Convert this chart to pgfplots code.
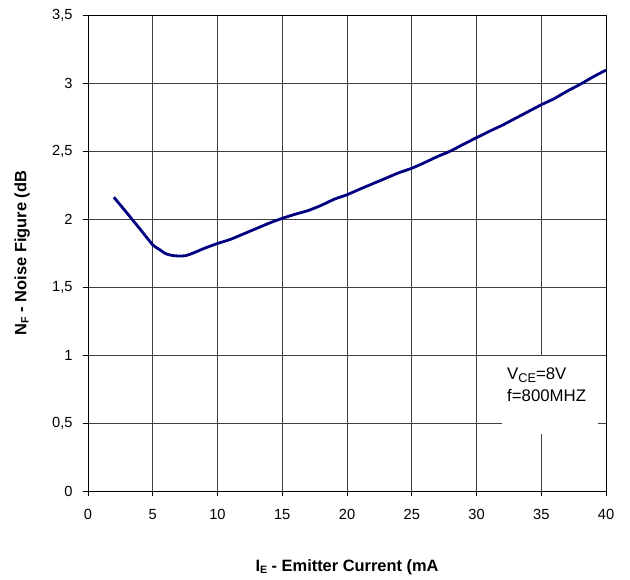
\documentclass[border=0pt]{standalone}
\usepackage{fontspec}
\setmainfont{Liberation Sans}
\usepackage{pgfplots}
\pgfplotsset{compat=1.18}
\definecolor{curve}{RGB}{0,0,128}
\begin{document}
\begin{tikzpicture}
\useasboundingbox (-66pt,-66pt) rectangle (406.5pt,368.25pt);
\begin{axis}[
  at={(0,0)}, anchor=south west,
  scale only axis, width=388.5pt, height=357pt,
  xmin=0, xmax=40, ymin=0, ymax=3.5,
  xtick={0,5,...,40}, ytick={0,0.5,...,3.5},
  grid=major,
  major grid style={black!75, line width=0.6pt},
  axis line style={black, line width=0.6pt},
  tick style={black, line width=0.6pt},
  tick align=outside, major tick length=4pt,
  xtick pos=left, ytick pos=left,
  /pgf/number format/assume math mode=true,
  /pgf/number format/use comma,
  /pgf/number format/fixed,
  ticklabel style={font=\fontsize{11}{13}\selectfont},
  xticklabel style={yshift=-6pt},
  yticklabel style={xshift=-4pt},
  xlabel={\textbf{I\raisebox{-0.25ex}{\fontsize{8}{9}\selectfont E} - Emitter Current (mA}},
  ylabel={\textbf{N\raisebox{-0.25ex}{\fontsize{8}{9}\selectfont F} - Noise Figure (dB}},
  xlabel style={font=\fontsize{12.3}{14}\selectfont, at={(axis description cs:0.5,-0.16)}, anchor=center},
  ylabel style={font=\fontsize{12.3}{14}\selectfont, at={(axis description cs:-0.127,0.5)}, anchor=center},
]
\fill[white] (axis cs:32,0.42) rectangle (axis cs:39.4,0.99);
\node[anchor=north west, align=left, font=\fontsize{12.6}{16.5}\selectfont, inner sep=0pt]
  at (axis cs:32.35,0.91) {V\raisebox{-0.35ex}{\fontsize{9.5}{10}\selectfont CE}=8V\\f=800MHZ};
\addplot[curve, line width=2.1pt, smooth, tension=0.3] coordinates {
(2,2.16)(3,2.045)(4,1.928)(5,1.81)(5.5,1.777)(6,1.745)(6.5,1.732)(7,1.728)(7.5,1.73)
(8,1.745)(9,1.785)(10,1.82)(11,1.85)(12,1.89)(13,1.93)(14,1.97)(15,2.005)
(16,2.035)(17,2.062)(18,2.1)(19,2.145)(19.5,2.162)(20,2.178)(21,2.22)(22,2.26)
(23,2.30)(24,2.34)(25,2.373)(26,2.415)(27,2.46)(28,2.50)(29,2.55)(30,2.598)
(31,2.645)(32,2.69)(33,2.74)(34,2.79)(35,2.84)(36,2.885)(37,2.94)(38,2.99)
(39,3.045)(40,3.095)
};
\end{axis}
\end{tikzpicture}
\end{document}
